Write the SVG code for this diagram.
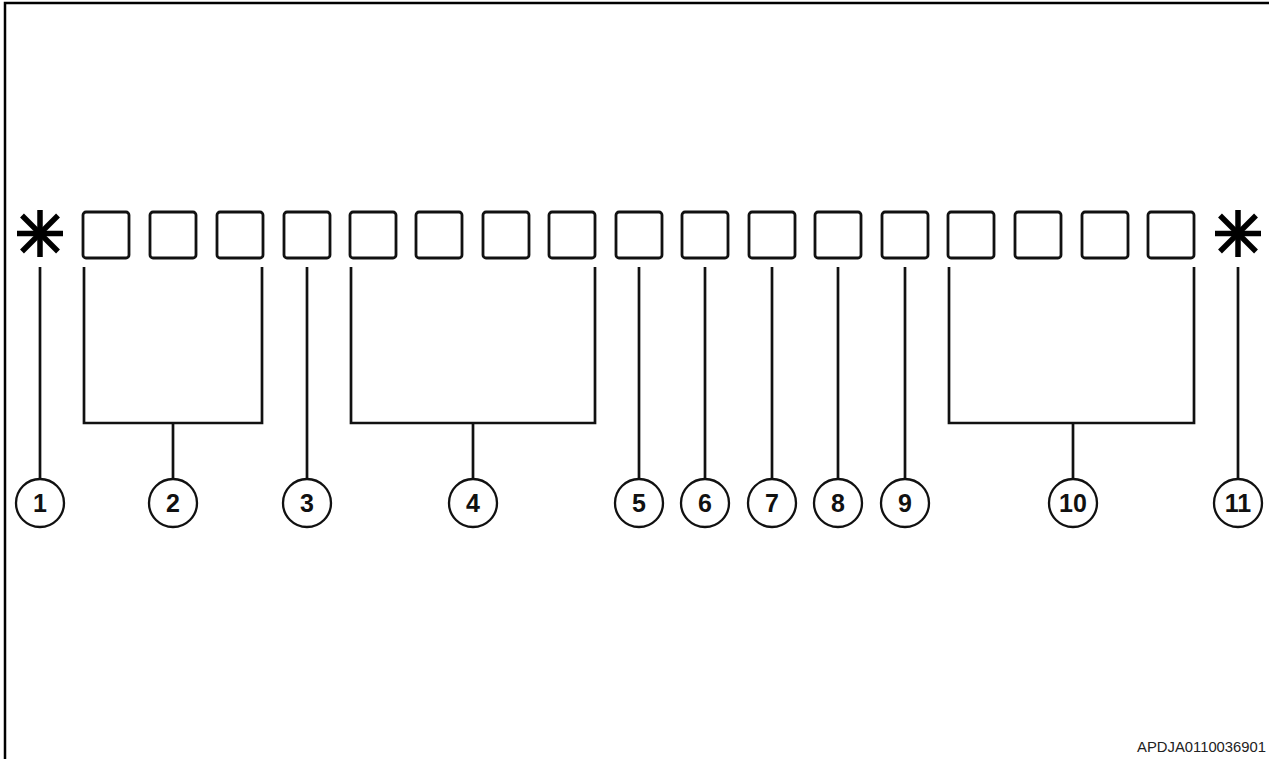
<svg xmlns="http://www.w3.org/2000/svg" width="1270" height="759" viewBox="0 0 1270 759">
<style>
.frame{fill:none;stroke:#000;stroke-width:2.5}
.sq{fill:#fff;stroke:#111;stroke-width:2.8}
.ast{stroke:#000;stroke-width:5.5;stroke-linecap:butt}
.ln{fill:none;stroke:#111;stroke-width:2.7}
.cir{fill:#fff;stroke:#111;stroke-width:2.3}
.lbl{font-family:"Liberation Sans",Arial,sans-serif;font-weight:bold;font-size:25px;fill:#111;text-anchor:middle}
.code{font-family:"Liberation Sans",Arial,sans-serif;font-size:14.8px;fill:#222;text-anchor:end}
</style>
<defs>
<rect id="s" width="46" height="46" rx="3"/>
<g id="star">
<line class="ast" x1="0" y1="-23.5" x2="0" y2="23.5"/>
<line class="ast" x1="-23" y1="0" x2="23" y2="0"/>
<line class="ast" x1="-18" y1="-18" x2="18" y2="18"/>
<line class="ast" x1="-18" y1="18" x2="18" y2="-18"/>
</g>
</defs>
<rect width="1270" height="759" fill="#fff"/>
<path class="frame" d="M5,759 V3 H1269"/>
<g id="connectors">
<line class="ln" x1="40" y1="267" x2="40" y2="479"/>
<path class="ln" d="M84,267 V423 H262 V267 M173,423 V479"/>
<line class="ln" x1="307" y1="267" x2="307" y2="479"/>
<path class="ln" d="M351,267 V423 H595 V267 M473,423 V479"/>
<line class="ln" x1="639" y1="267" x2="639" y2="479"/>
<line class="ln" x1="705" y1="267" x2="705" y2="479"/>
<line class="ln" x1="772" y1="267" x2="772" y2="479"/>
<line class="ln" x1="838" y1="267" x2="838" y2="479"/>
<line class="ln" x1="905" y1="267" x2="905" y2="479"/>
<path class="ln" d="M949,267 V423 H1194 V267 M1073,423 V479"/>
<line class="ln" x1="1238" y1="267" x2="1238" y2="479"/>
</g>
<g id="star-left"><use href="#star" x="40" y="233.5"/></g>
<g id="squares">
<use href="#s" class="sq" x="83" y="212"/>
<use href="#s" class="sq" x="150" y="212"/>
<use href="#s" class="sq" x="217" y="212"/>
<use href="#s" class="sq" x="284" y="212"/>
<use href="#s" class="sq" x="350" y="212"/>
<use href="#s" class="sq" x="416" y="212"/>
<use href="#s" class="sq" x="483" y="212"/>
<use href="#s" class="sq" x="549" y="212"/>
<use href="#s" class="sq" x="616" y="212"/>
<use href="#s" class="sq" x="682" y="212"/>
<use href="#s" class="sq" x="749" y="212"/>
<use href="#s" class="sq" x="815" y="212"/>
<use href="#s" class="sq" x="882" y="212"/>
<use href="#s" class="sq" x="948" y="212"/>
<use href="#s" class="sq" x="1015" y="212"/>
<use href="#s" class="sq" x="1082" y="212"/>
<use href="#s" class="sq" x="1148" y="212"/>
</g>
<g id="star-right"><use href="#star" x="1238" y="233.5"/></g>
<g id="n1"><circle class="cir" cx="40" cy="503" r="24"/><text class="lbl" x="40" y="512">1</text></g>
<g id="n2"><circle class="cir" cx="173" cy="503" r="24"/><text class="lbl" x="173" y="512">2</text></g>
<g id="n3"><circle class="cir" cx="307" cy="503" r="24"/><text class="lbl" x="307" y="512">3</text></g>
<g id="n4"><circle class="cir" cx="473" cy="503" r="24"/><text class="lbl" x="473" y="512">4</text></g>
<g id="n5"><circle class="cir" cx="639" cy="503" r="24"/><text class="lbl" x="639" y="512">5</text></g>
<g id="n6"><circle class="cir" cx="705" cy="503" r="24"/><text class="lbl" x="705" y="512">6</text></g>
<g id="n7"><circle class="cir" cx="772" cy="503" r="24"/><text class="lbl" x="772" y="512">7</text></g>
<g id="n8"><circle class="cir" cx="838" cy="503" r="24"/><text class="lbl" x="838" y="512">8</text></g>
<g id="n9"><circle class="cir" cx="905" cy="503" r="24"/><text class="lbl" x="905" y="512">9</text></g>
<g id="n10"><circle class="cir" cx="1073" cy="503" r="24"/><text class="lbl" x="1073" y="512">10</text></g>
<g id="n11"><circle class="cir" cx="1238" cy="503" r="24"/><text class="lbl" x="1238" y="512">11</text></g>
<text class="code" x="1266" y="752">APDJA0110036901</text>
</svg>
